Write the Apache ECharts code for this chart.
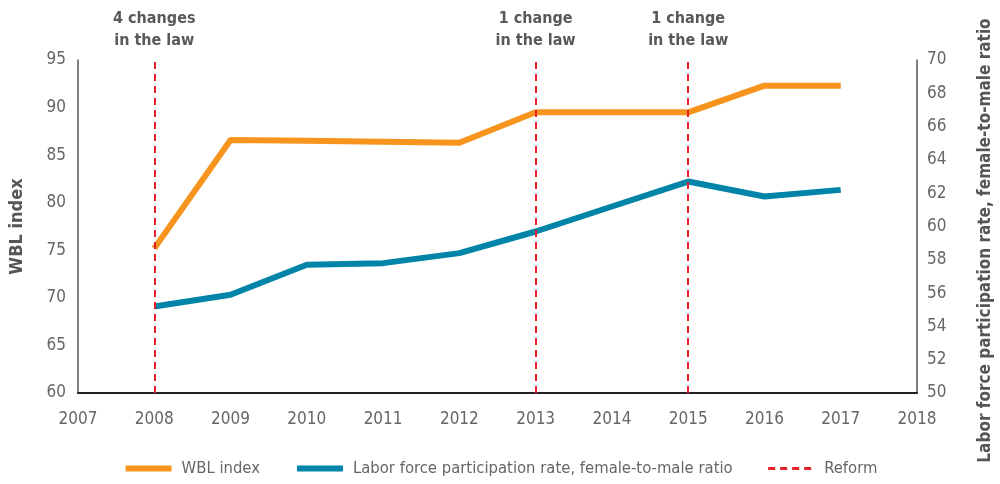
<!DOCTYPE html>
<html>
<head>
<meta charset="utf-8">
<script src="https://cdn.jsdelivr.net/npm/echarts@6/dist/echarts.min.js"></script>
<style>
  html, body { margin: 0; padding: 0; background: #fff; }
  #main { width: 1000px; height: 484px; }
</style>
</head>
<body>
<div id="main"></div>
<script>
// data
const years = [2008, 2009, 2010, 2011, 2012, 2013, 2014, 2015, 2016, 2017]
const wblIndex = [75.2, 86.6, 86.5, 86.4, 86.3, 89.5, 89.5, 89.5, 92.3, 92.3]
const laborRatio = [55.2, 55.9, 57.7, 57.8, 58.4, 59.7, 61.2, 62.7, 61.8, 62.2]
const reformYears = [2008, 2013, 2015]
const reformLabels = ['4 changes\nin the law', '1 change\nin the law', '1 change\nin the law']

const font = '"Liberation Sans Narrow", "DejaVu Sans Condensed", "Noto Sans", sans-serif'
const grey = '#666'
const colors = ['#f7941d', '#0085a8', '#e8202a']

const chart = echarts.init(document.getElementById('main'))
const option = {
  animation: false,
  color: colors,
  textStyle: { fontFamily: font },
  grid: { left: 78, right: 83, top: 60, bottom: 91, outerBoundsMode: 'none', containLabel: false },
  legend: {
    bottom: 2,
    left: 'center',
    itemWidth: 46,
    itemHeight: 8,
    itemGap: 34,
    textStyle: { fontFamily: font, fontSize: 16.5, color: grey, padding: [0, 0, 0, 5] },
    data: [
      { name: 'WBL index', itemStyle: { opacity: 0 }, lineStyle: { width: 6, color: colors[0] } },
      { name: 'Labor force participation rate, female-to-male ratio', itemStyle: { opacity: 0 }, lineStyle: { width: 6, color: colors[1] } },
      { name: 'Reform', itemStyle: { opacity: 0 }, lineStyle: { width: 3, type: [7, 5], color: colors[2] } }
    ]
  },
  xAxis: {
    type: 'value',
    min: 2007,
    max: 2018,
    interval: 1,
    splitLine: { show: false },
    axisTick: { show: false },
    axisLine: { lineStyle: { color: '#222', width: 2 } },
    axisLabel: { color: grey, fontSize: 17, margin: 18, formatter: v => String(v) }
  },
  yAxis: [
    {
      type: 'value',
      min: 60,
      max: 95,
      interval: 5,
      name: 'WBL index',
      nameLocation: 'middle',
      nameRotate: 90,
      nameGap: 52,
      nameTextStyle: { fontFamily: font, fontSize: 18, fontWeight: 'bold', color: '#555' },
      splitLine: { show: false },
      axisTick: { show: false },
      axisLine: { show: true, lineStyle: { color: '#555', width: 1.5 } },
      axisLabel: { color: grey, fontSize: 17, margin: 12 }
    },
    {
      type: 'value',
      min: 50,
      max: 70,
      interval: 2,
      name: 'Labor force participation rate, female-to-male ratio',
      nameLocation: 'middle',
      nameRotate: 90,
      nameGap: 60,
      nameTextStyle: { fontFamily: font, fontSize: 17, fontWeight: 'bold', color: '#555', padding: [0, 28, 0, 0] },
      splitLine: { show: false },
      axisTick: { show: false },
      axisLine: { show: true, lineStyle: { color: '#555', width: 1.5 } },
      axisLabel: { color: grey, fontSize: 17, margin: 10 }
    }
  ],
  series: [
    {
      name: 'Reform',
      type: 'line',
      data: [],
      symbol: 'none',
      lineStyle: { color: colors[2], type: [7, 5], width: 2 },
      itemStyle: { color: colors[2] },
      markLine: {
        silent: true,
        symbol: ['none', 'none'],
        lineStyle: { color: colors[2], type: [7, 5], width: 2 },
        label: {
          show: true,
          position: 'end',
          distance: 8,
          fontFamily: font,
          fontSize: 16,
          fontWeight: 'bold',
          color: '#595959',
          lineHeight: 22,
          formatter: p => p.name
        },
        data: reformYears.map((y, i) => ({ xAxis: y, name: reformLabels[i] }))
      }
    },
    {
      name: 'WBL index',
      type: 'line',
      yAxisIndex: 0,
      symbol: 'none',
      lineStyle: { width: 6 },
      data: years.map((y, i) => [y, wblIndex[i]])
    },
    {
      name: 'Labor force participation rate, female-to-male ratio',
      type: 'line',
      yAxisIndex: 1,
      symbol: 'none',
      lineStyle: { width: 6 },
      data: years.map((y, i) => [y, laborRatio[i]])
    }
  ]
}
chart.setOption(option)
</script>
</body>
</html>
